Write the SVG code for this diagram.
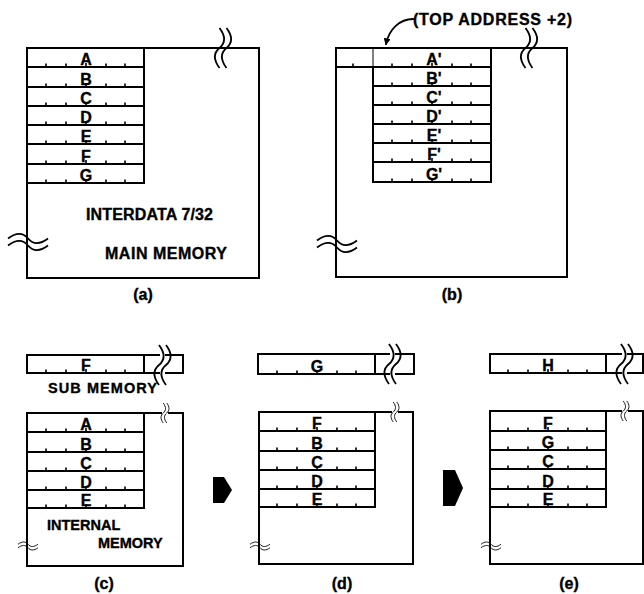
<svg xmlns="http://www.w3.org/2000/svg" xmlns:xlink="http://www.w3.org/1999/xlink" width="644" height="594" viewBox="0 0 644 594">
<style>
.ln{stroke:#000;stroke-width:2;fill:none;stroke-linecap:square}
.thin{stroke:#000;stroke-width:1;fill:none}
.tk{stroke:#000;stroke-width:1.6;fill:none}
.br{stroke:#000;stroke-width:1.8;fill:none}
.t{font-family:"Liberation Sans",Arial,sans-serif;font-weight:bold;font-size:16px;fill:#000;stroke:#000;stroke-width:0.35}
.s{font-size:14.5px}
.c{text-anchor:middle}
</style>
<defs>
<g id="ticks">
<path class="tk" d="M-40 0V-3.5M-20 0V-3.5M0 0V-4M20 0V-3.5M39 0V-3.5"/>
</g>
<g id="brk">
<path class="br" d="M-3.5 -20C2.5 -12 2.5 -5 -3.5 0C-9.5 5 -9.5 12 -3.5 20"/>
<path class="br" d="M3.5 -20C9.5 -12 9.5 -5 3.5 0C-2.5 5 -2.5 12 3.5 20"/>
</g>
<marker id="ah" viewBox="0 0 10 10" refX="8" refY="5" markerWidth="7" markerHeight="7" orient="auto" markerUnits="userSpaceOnUse">
<path d="M0 0L10 5L0 10Z" fill="#000"/>
</marker>
</defs>
<rect width="644" height="594" fill="#fff"/>

<g id="panel-a">
<path class="ln" d="M27 48H259V278H27Z"/>
<path class="ln" d="M27 48H144V183H27M27 67H144M27 87H144M27 106H144M27 125H144M27 144H144M27 164H144"/>
<use xlink:href="#ticks" x="86" y="67"/><use xlink:href="#ticks" x="86" y="87"/><use xlink:href="#ticks" x="86" y="106"/><use xlink:href="#ticks" x="86" y="125"/><use xlink:href="#ticks" x="86" y="144"/><use xlink:href="#ticks" x="86" y="164"/><use xlink:href="#ticks" x="86" y="183"/>
<text class="t c" x="86" y="65">A</text>
<text class="t c" x="86" y="85">B</text>
<text class="t c" x="86" y="104">C</text>
<text class="t c" x="86" y="123">D</text>
<text class="t c" x="86" y="142">E</text>
<text class="t c" x="86" y="162">F</text>
<text class="t c" x="86" y="181">G</text>
<use xlink:href="#brk" transform="translate(223 48)"/>
<use xlink:href="#brk" transform="translate(28 242) rotate(90)"/>
<text class="t" x="86" y="220" textLength="127">INTERDATA 7/32</text>
<text class="t" x="105" y="259" textLength="122">MAIN MEMORY</text>
<text class="t c" x="143" y="300">(a)</text>
</g>

<g id="panel-b">
<path class="ln" d="M336 48H567V277H336Z"/>
<path class="ln" d="M336 67H373"/>
<path class="thin" d="M373 48V67"/>
<path class="ln" d="M373 48H491V182H373V67M373 67H491M373 86H491M373 105H491M373 124H491M373 143H491M373 162H491"/>
<path class="tk" d="M353 67V63.5"/>
<use xlink:href="#ticks" x="432" y="67"/><use xlink:href="#ticks" x="432" y="86"/><use xlink:href="#ticks" x="432" y="105"/><use xlink:href="#ticks" x="432" y="124"/><use xlink:href="#ticks" x="432" y="143"/><use xlink:href="#ticks" x="432" y="162"/><use xlink:href="#ticks" x="432" y="182"/>
<text class="t c" x="434" y="65">A'</text>
<text class="t c" x="434" y="84">B'</text>
<text class="t c" x="434" y="103">C'</text>
<text class="t c" x="434" y="122">D'</text>
<text class="t c" x="434" y="141">E'</text>
<text class="t c" x="434" y="160">F'</text>
<text class="t c" x="434" y="180">G'</text>
<use xlink:href="#brk" transform="translate(529 48)"/>
<use xlink:href="#brk" transform="translate(337 244) rotate(90)"/>
<text class="t" x="413" y="25" textLength="159">(TOP ADDRESS +2)</text>
<text class="t c" x="452" y="300">(b)</text>
</g>

<g id="sub-c">
<path class="ln" d="M159 355H27V373H159M166 355H183V373H166M144 355V373"/>
<use xlink:href="#brk" transform="translate(162.5 365)"/>
<use xlink:href="#ticks" x="86" y="373"/>
<text class="t c" x="86" y="371">F</text>
<text class="t s" x="48" y="393" textLength="109">SUB MEMORY</text>
</g>

<g id="panel-c">
<path class="ln" d="M161 413H27V566H183V413H169"/>
<path class="ln" d="M144 413V508H27M27 432H144M27 452H144M27 471H144M27 490H144"/>
<use xlink:href="#brk" transform="translate(165 413) scale(0.5)"/>
<use xlink:href="#brk" transform="translate(28 546) scale(0.5) rotate(90)"/>
<use xlink:href="#ticks" x="86" y="432"/><use xlink:href="#ticks" x="86" y="452"/><use xlink:href="#ticks" x="86" y="471"/><use xlink:href="#ticks" x="86" y="490"/><use xlink:href="#ticks" x="86" y="508"/>
<text class="t c" x="86" y="430">A</text>
<text class="t c" x="86" y="450">B</text>
<text class="t c" x="86" y="469">C</text>
<text class="t c" x="86" y="488">D</text>
<text class="t c" x="86" y="506">E</text>
<text class="t s" x="47" y="530">INTERNAL</text>
<text class="t s" x="98" y="548">MEMORY</text>
<text class="t c" x="104" y="589">(c)</text>
</g>

<g id="sub-d">
<path class="ln" d="M389 354H258V374H389M396 354H414V374H396M375 354V374"/>
<use xlink:href="#brk" transform="translate(392.5 364)"/>
<use xlink:href="#ticks" x="317" y="374"/>
<text class="t c" x="317" y="372">G</text>
</g>

<g id="panel-d">
<path class="ln" d="M391 412H259V564H413V412H399"/>
<path class="ln" d="M375 412V507H259M259 431H375M259 451H375M259 470H375M259 489H375"/>
<use xlink:href="#brk" transform="translate(395 412) scale(0.5)"/>
<use xlink:href="#brk" transform="translate(260 546) scale(0.5) rotate(90)"/>
<use xlink:href="#ticks" x="317" y="431"/><use xlink:href="#ticks" x="317" y="451"/><use xlink:href="#ticks" x="317" y="470"/><use xlink:href="#ticks" x="317" y="489"/><use xlink:href="#ticks" x="317" y="507"/>
<text class="t c" x="317" y="429">F</text>
<text class="t c" x="317" y="449">B</text>
<text class="t c" x="317" y="468">C</text>
<text class="t c" x="317" y="487">D</text>
<text class="t c" x="317" y="505">E</text>
<text class="t c" x="342" y="589">(d)</text>
</g>

<g id="sub-e">
<path class="ln" d="M621 354H490V373H621M628 354H643V373H628M606 354V373"/>
<use xlink:href="#brk" transform="translate(624.5 364)"/>
<use xlink:href="#ticks" x="548" y="373"/>
<text class="t c" x="548" y="371">H</text>
</g>

<g id="panel-e">
<path class="ln" d="M621 411H490V564H643V411H629"/>
<path class="ln" d="M606 411V507H490M490 431H606M490 450H606M490 469H606M490 489H606"/>
<use xlink:href="#brk" transform="translate(625 411) scale(0.5)"/>
<use xlink:href="#brk" transform="translate(491 546) scale(0.5) rotate(90)"/>
<use xlink:href="#ticks" x="548" y="431"/><use xlink:href="#ticks" x="548" y="450"/><use xlink:href="#ticks" x="548" y="469"/><use xlink:href="#ticks" x="548" y="489"/><use xlink:href="#ticks" x="548" y="507"/>
<text class="t c" x="548" y="429">F</text>
<text class="t c" x="548" y="448">G</text>
<text class="t c" x="548" y="467">C</text>
<text class="t c" x="548" y="487">D</text>
<text class="t c" x="548" y="505">E</text>
<text class="t c" x="569" y="589">(e)</text>
</g>

<g id="connectors">
<path class="ln" d="M413 19C400 19 389 29 386 44" marker-end="url(#ah)" style="stroke-width:1.8"/>
<path d="M213 477H224L232 490L224 503H213Z" fill="#000"/>
<path d="M443 470H455L463 488L455 506H443Z" fill="#000"/>
</g>
</svg>
